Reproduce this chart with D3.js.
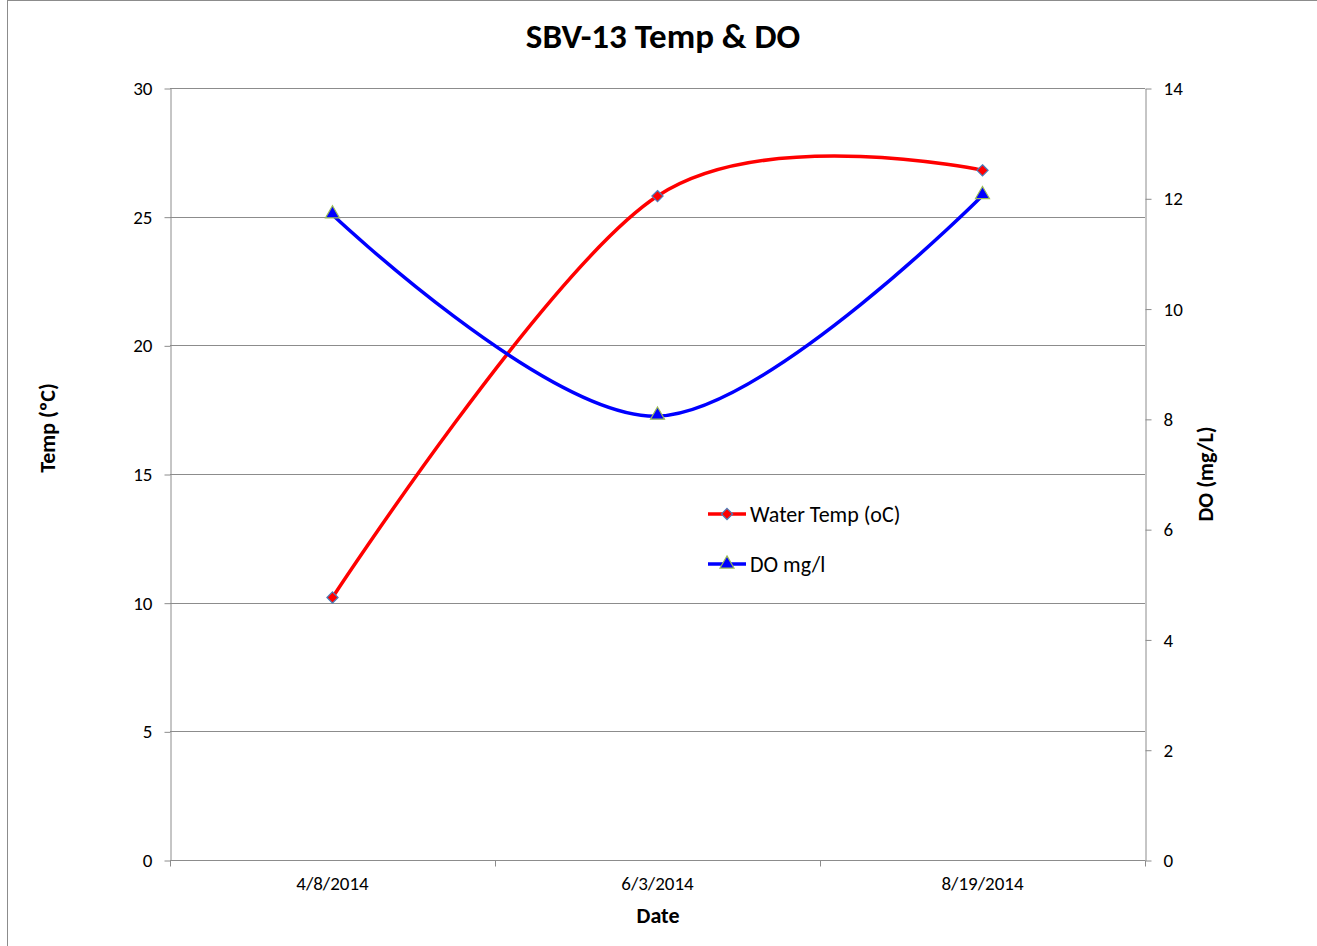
<!DOCTYPE html>
<html lang="en">
<head>
<meta charset="utf-8">
<title>SBV-13 Temp &amp; DO</title>
<script src="https://cdn.jsdelivr.net/npm/d3@7"></script>
<style>
  body { margin: 0; background: #fff; }
  text { font-family: Carlito, Calibri, Lato, sans-serif; fill: #000; }
  .axis path, .axis line { stroke: #8c8c8c; }
  .grid line { stroke: #8c8c8c; }
</style>
</head>
<body>
<script>
// data
var dates = ["4/8/2014", "6/3/2014", "8/19/2014"];
var waterTemp = [10.2, 25.8, 26.8];
var doMgl = [11.7, 8.05, 12.05];
var tempTicks = [0, 5, 10, 15, 20, 25, 30];
var doTicks = [0, 2, 4, 6, 8, 10, 12, 14];

var W = 1317, H = 946;
var m = { left: 170, right: 1145, top: 88, bottom: 860 };

var svg = d3.select("body").append("svg")
  .attr("width", W).attr("height", H);

// chart frame
svg.append("rect")
  .attr("x", 7.5).attr("y", 0.5)
  .attr("width", W - 7).attr("height", H)
  .attr("fill", "#fff").attr("stroke", "#8c8c8c");

var x = d3.scaleBand().domain(dates).range([m.left, m.right]);
var yL = d3.scaleLinear().domain([0, 30]).range([m.bottom, m.top]);
var yR = d3.scaleLinear().domain([0, 14]).range([m.bottom, m.top]);

// gridlines
svg.append("g").attr("class", "grid")
  .selectAll("line").data(tempTicks.slice(1)).enter().append("line")
  .attr("x1", m.left).attr("x2", m.right)
  .attr("y1", function(d){ return Math.round(yL(d)) + 0.5; })
  .attr("y2", function(d){ return Math.round(yL(d)) + 0.5; });

// left axis
var gL = svg.append("g").attr("class", "axis")
  .attr("transform", "translate(" + (m.left + 0.5) + ",0.5)")
  .call(d3.axisLeft(yL).tickValues(tempTicks).tickSize(6).tickSizeOuter(0).tickPadding(12));
gL.selectAll("text").style("font-size", "19px");

// right axis
var gR = svg.append("g").attr("class", "axis")
  .attr("transform", "translate(" + (m.right + 0.5) + ",0.5)")
  .call(d3.axisRight(yR).tickValues(doTicks).tickSize(6).tickSizeOuter(0).tickPadding(12));
gR.selectAll("text").style("font-size", "19px");

// x axis
var gX = svg.append("g").attr("class", "axis")
  .attr("transform", "translate(0," + (m.bottom + 0.5) + ")")
  .call(d3.axisBottom(x).tickSize(0).tickPadding(16));
gX.selectAll("text").style("font-size", "19px");
gX.select(".domain").attr("d", "M" + m.left + ",0H" + m.right);
gX.selectAll(".bnd").data(d3.range(dates.length + 1)).enter().append("line")
  .attr("class", "bnd")
  .attr("x1", function(i){ return Math.round(m.left + i * x.step()) + 0.5; })
  .attr("x2", function(i){ return Math.round(m.left + i * x.step()) + 0.5; })
  .attr("y1", 0).attr("y2", 6)
  .attr("stroke", "#8c8c8c");

var cx = function(d, i){ return x(dates[i]) + x.bandwidth() / 2; };

var line = d3.line().curve(d3.curveCardinal.tension(0));

svg.append("path")
  .attr("d", line(waterTemp.map(function(d, i){ return [cx(d, i), yL(d)]; })))
  .attr("fill", "none").attr("stroke", "#ff0000").attr("stroke-width", 3.5);

svg.append("path")
  .attr("d", line(doMgl.map(function(d, i){ return [cx(d, i), yR(d)]; })))
  .attr("fill", "none").attr("stroke", "#0000ff").attr("stroke-width", 3.5);

var diamond = d3.symbol().type(d3.symbolDiamond2).size(80);
var triangle = d3.symbol().type(d3.symbolTriangle).size(85);

svg.selectAll(".tm").data(waterTemp).enter().append("path")
  .attr("class", "tm")
  .attr("d", diamond)
  .attr("transform", function(d, i){ return "translate(" + cx(d, i) + "," + yL(d) + ")"; })
  .attr("fill", "#ff0000").attr("stroke", "#4a7ebb").attr("stroke-width", 1.2);

svg.selectAll(".dm").data(doMgl).enter().append("path")
  .attr("class", "dm")
  .attr("d", triangle)
  .attr("transform", function(d, i){ return "translate(" + cx(d, i) + "," + (yR(d) - 1) + ")"; })
  .attr("fill", "#0000ff").attr("stroke", "#9bbb59").attr("stroke-width", 1.2);

// legend
var legend = [
  { name: "Water Temp (oC)", color: "#ff0000", sym: diamond, edge: "#4a7ebb", y: 514 },
  { name: "DO mg/l", color: "#0000ff", sym: triangle, edge: "#9bbb59", y: 564 }
];
var lg = svg.selectAll(".lg").data(legend).enter().append("g").attr("class", "lg")
  .attr("transform", function(d){ return "translate(708," + d.y + ")"; });
lg.append("line").attr("x1", 0).attr("x2", 38)
  .attr("stroke", function(d){ return d.color; }).attr("stroke-width", 3.5);
lg.append("path").attr("d", function(d){ return d.sym(); })
  .attr("transform", "translate(19,0)")
  .attr("fill", function(d){ return d.color; })
  .attr("stroke", function(d){ return d.edge; }).attr("stroke-width", 1.2);
lg.append("text").attr("x", 42).attr("dy", "0.35em")
  .style("font-size", "22px").text(function(d){ return d.name; });

// titles
svg.append("text").attr("x", 663).attr("y", 48).attr("text-anchor", "middle")
  .style("font-size", "35px").style("font-weight", "bold").text("SBV-13 Temp & DO");
svg.append("text").attr("x", 658).attr("y", 923).attr("text-anchor", "middle")
  .style("font-size", "22px").style("font-weight", "bold").text("Date");
svg.append("text").attr("transform", "translate(55,428) rotate(-90)").attr("text-anchor", "middle")
  .style("font-size", "22px").style("font-weight", "bold").text("Temp (ºC)");
svg.append("text").attr("transform", "translate(1213,474) rotate(-90)").attr("text-anchor", "middle")
  .style("font-size", "22px").style("font-weight", "bold").text("DO (mg/L)");
</script>
</body>
</html>
